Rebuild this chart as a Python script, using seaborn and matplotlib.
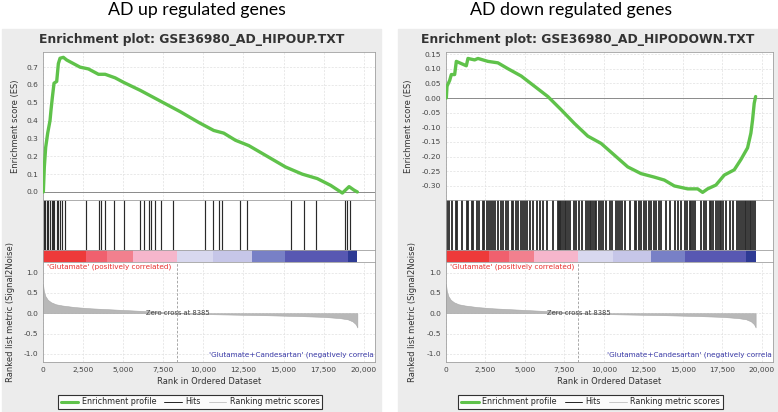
import matplotlib
matplotlib.use('Agg')
import matplotlib.pyplot as plt
from matplotlib.lines import Line2D
from matplotlib.patches import Rectangle
import seaborn as sns

W, H = 778, 412

# ---- data ----
N_GENES = 19600
ZERO_CROSS = 8385
X_TICKS = [0, 2500, 5000, 7500, 10000, 12500, 15000, 17500, 20000]

up_es_rank = [21, 83, 167, 292, 437, 500, 583, 687, 854, 958, 1062, 1270, 1479,
              2312, 2833, 3458, 3875, 4500, 5020, 6062, 7312, 8562, 9708, 10645,
              11270, 12000, 12833, 13979, 15125, 15645, 16166, 17104, 17937,
              18666, 19083, 19400, 19600]
up_es_val = [0.0, 0.14, 0.25, 0.33, 0.40, 0.46, 0.53, 0.61, 0.62, 0.72, 0.75, 0.755,
             0.74, 0.70, 0.69, 0.66, 0.66, 0.64, 0.615, 0.57, 0.51, 0.45, 0.39,
             0.345, 0.33, 0.29, 0.26, 0.20, 0.14, 0.12, 0.10, 0.075, 0.037,
             -0.006, 0.03, 0.01, 0.0]

up_hits = [62, 146, 229, 333, 437, 542, 604, 687, 896, 958, 1062, 1167, 1375,
           2687, 3521, 3604, 3896, 4437, 5021, 6021, 6271, 6604, 6708, 7000, 7354,
           8104, 10083, 10583, 10979, 11187, 12312, 12729, 15479, 16271, 17021,
           18833, 18937, 19125]

down_es_rank = [21, 63, 232, 337, 548, 653, 864, 1285, 1391, 1812, 2023, 2655,
                3287, 3919, 4762, 5605, 6447, 7290, 8133, 8976, 9819, 10661, 11504,
                12347, 13190, 13822, 14454, 15297, 15929, 16245, 16561, 17088,
                17615, 18247, 18668, 19090, 19300, 19406, 19511, 19600]
down_es_val = [0.0, 0.04, 0.06, 0.08, 0.08, 0.125, 0.12, 0.11, 0.135, 0.13, 0.135,
               0.125, 0.12, 0.10, 0.075, 0.04, 0.005, -0.04, -0.087, -0.13, -0.155,
               -0.195, -0.235, -0.258, -0.27, -0.28, -0.30, -0.31, -0.31, -0.322,
               -0.31, -0.297, -0.263, -0.245, -0.21, -0.17, -0.12, -0.075, -0.018,
               0.005]

down_hits = [85, 211, 358, 632, 717, 990, 1349, 1411, 1622, 1728, 1938, 2107, 2317,
             2423, 2570, 2739, 2823, 2992, 3097, 3307, 3455, 3624, 3792, 3939, 4150,
             4256, 4424, 4530, 4719, 4845, 4993, 5141, 5309, 5477, 5773, 5941, 6152,
             6405, 6742, 7099, 7163, 7248, 7310, 7416, 7521, 7627, 7731, 7880, 8090,
             8259, 8427, 8638, 8891, 8995, 9101, 9206, 9312, 9417, 9523, 9691, 9838,
             9944, 10112, 10365, 10534, 10744, 10891, 10997, 11166, 11313, 11629,
             11945, 12051, 12219, 12366, 12514, 12683, 12851, 12998, 13146, 13315,
             13483, 13630, 13947, 14157, 14473, 14684, 14894, 15105, 15253, 15421,
             15526, 15632, 15737, 16158, 16306, 16475, 16685, 16790, 16896, 17064,
             17212, 17317, 17422, 17528, 17696, 17949, 18160, 18434, 18539, 18686,
             18792, 18897, 19003, 19108, 19213, 19318, 19424, 19530]

metric_rank = [0, 50, 150, 300, 500, 800, 1200, 2000, 3000, 4000, 5000, 6000,
               7000, 8000, 8385, 9000, 10000, 12000, 14000, 16000, 17500, 18500,
               19000, 19300, 19500, 19600]
metric_val = [0.72, 0.55, 0.42, 0.33, 0.27, 0.22, 0.19, 0.15, 0.12, 0.10, 0.08,
              0.06, 0.04, 0.015, 0.0, -0.01, -0.02, -0.035, -0.05, -0.07, -0.09,
              -0.12, -0.15, -0.20, -0.27, -0.35]

cbar_edges = [0, 2700, 4000, 5600, 8385, 10600, 13000, 15100, 19000, 19600]
cbar_colors = ['#ee3a3a', '#f0606e', '#f2808e', '#f6b6cc', '#d8d8ef', '#c6c6e8',
               '#7880c6', '#5858b2', '#2e3a94']

sns.set_theme(style='white')
plt.rcParams['font.family'] = ['DejaVu Sans']
plt.rcParams['axes.unicode_minus'] = False

GREEN = '#5fc24a'
SPINE = '#a0a0a0'
GRID = dict(color='#e0e0e0', lw=0.5, ls=(0, (3, 2)))


def px_box(x0, y0, x1, y1):
    return [x0 / W, 1 - y1 / H, (x1 - x0) / W, (y1 - y0) / H]


def style_ax(ax):
    for s in ax.spines.values():
        s.set_visible(True)
        s.set_color(SPINE)
        s.set_linewidth(0.6)
    ax.set_xlim(0, 20700)
    ax.tick_params(length=2, width=0.5, color=SPINE, pad=1.5,
                   labelsize=5.4, labelcolor='#444')


def draw_panel(fig, bg, x0, x1, head_x, head, title, es_rank, es_val, hits, hit_lw,
               es_lim, es_ticks, es_fmt, lab_es, lab_rm):
    fig.add_artist(Rectangle((bg[0] / W, 0), (bg[1] - bg[0]) / W, (H - 29) / H,
                             transform=fig.transFigure, color='#ececec', zorder=0))
    cx = (bg[0] + bg[1]) / 2
    fig.text(head_x / W, 1 - 10 / H, head, family='Lato', fontsize=12.8,
             ha='center', va='center', color='black')
    fig.text(cx / W, 1 - 40 / H, title, fontsize=8.9, weight='bold',
             ha='center', va='center', color='#333333')

    # enrichment score
    ax_es = fig.add_axes(px_box(x0, 52, x1, 200))
    ax_es.set_facecolor('white')
    style_ax(ax_es)
    ax_es.set_xticks(X_TICKS)
    ax_es.set_xticklabels([])
    ax_es.tick_params(axis='x', length=0)
    ax_es.set_ylim(*es_lim)
    ax_es.set_yticks(es_ticks)
    ax_es.set_yticklabels([es_fmt.format(t) for t in es_ticks])
    ax_es.grid(True, **GRID)
    ax_es.axhline(0, color='#8a8a8a', lw=0.7, zorder=1)
    sns.lineplot(x=es_rank, y=es_val, ax=ax_es, color=GREEN, linewidth=2.4,
                 zorder=3)
    ax_es.set_xlim(0, 20700)
    ax_es.set_ylabel('Enrichment score (ES)', fontsize=6, color='#333')
    ax_es.yaxis.set_label_coords(lab_es, 0.5)

    # hits
    ax_h = fig.add_axes(px_box(x0, 200, x1, 250))
    ax_h.set_facecolor('white')
    style_ax(ax_h)
    ax_h.set_xticks([])
    ax_h.set_yticks([])
    ax_h.set_ylim(0, 1)
    ax_h.vlines(hits, 0, 1, color='#2a2a2a', lw=hit_lw)

    # colour bar
    ax_b = fig.add_axes(px_box(x0, 250, x1, 262))
    ax_b.set_facecolor('white')
    style_ax(ax_b)
    ax_b.set_xticks([])
    ax_b.set_yticks([])
    for a, b, c in zip(cbar_edges[:-1], cbar_edges[1:], cbar_colors):
        ax_b.axvspan(a, b, color=c, lw=0)

    # ranked list metric
    ax_r = fig.add_axes(px_box(x0, 262, x1, 362))
    ax_r.set_facecolor('white')
    style_ax(ax_r)
    ax_r.set_ylim(-1.2, 1.26)
    ax_r.set_yticks([-1.0, -0.5, 0.0, 0.5, 1.0])
    ax_r.set_yticklabels(['-1.0', '-0.5', '0.0', '0.5', '1.0'])
    ax_r.set_xticks(X_TICKS)
    ax_r.set_xticklabels(['{:,}'.format(t) for t in X_TICKS])
    ax_r.grid(True, **GRID)
    ax_r.fill_between(metric_rank, 0, metric_val, color='#b8b8b8', lw=0.4,
                      edgecolor='#a8a8a8', zorder=2)
    ax_r.axvline(ZERO_CROSS, color='#9a9a9a', lw=0.6, ls=(0, (3, 2)), zorder=3)
    ax_r.text(ZERO_CROSS, 0.0, 'Zero cross at 8385', fontsize=4.9, color='#444',
              ha='center', va='center', zorder=4)
    ax_r.text(250, 1.14, "'Glutamate' (positively correlated)", fontsize=5.2,
              color='#e8302f', ha='left', va='center')
    # the reference cuts this label at the panel edge
    ax_r.text(20650, -1.03, "'Glutamate+Candesartan' (negatively correla",
              fontsize=5.2, color='#3a3aa8', ha='right', va='center', clip_on=True)
    ax_r.set_ylabel('Ranked list metric (Signal2Noise)', fontsize=6, color='#333')
    ax_r.yaxis.set_label_coords(lab_rm, 0.5)
    ax_r.set_xlabel('Rank in Ordered Dataset', fontsize=6, color='#333')
    ax_r.xaxis.set_label_coords(0.5, -0.15)

    handles = [Line2D([], [], color=GREEN, lw=2.2),
               Line2D([], [], color='#222', lw=0.7),
               Line2D([], [], color='#c8c8c8', lw=0.7)]
    leg = fig.legend(handles, ['Enrichment profile', 'Hits', 'Ranking metric scores'],
                     loc='center', bbox_to_anchor=(((x0 + x1) / 2 - 19) / W, 1 - 402 / H),
                     ncol=3, fontsize=5.8, frameon=True, fancybox=False,
                     edgecolor='black', handlelength=2.2, columnspacing=1.0,
                     borderpad=0.35, handletextpad=0.4)
    leg.get_frame().set_linewidth(0.8)


fig = plt.figure(figsize=(W / 100, H / 100), dpi=100)
fig.patch.set_facecolor('white')

draw_panel(fig, (2, 381), 43, 375, 197, 'AD up regulated genes',
           'Enrichment plot: GSE36980_AD_HIPOUP.TXT', up_es_rank, up_es_val, up_hits,
           0.85, (-0.045, 0.785), [0.0, 0.1, 0.2, 0.3, 0.4, 0.5, 0.6, 0.7], '{:.1f}',
           -0.069, -0.084)
draw_panel(fig, (398, 778), 446, 773, 571, 'AD down regulated genes',
           'Enrichment plot: GSE36980_AD_HIPODOWN.TXT', down_es_rank, down_es_val,
           down_hits, 1.3, (-0.348, 0.157),
           [0.15, 0.10, 0.05, 0.0, -0.05, -0.10, -0.15, -0.20, -0.25, -0.30], '{:.2f}',
           -0.10, -0.089)

fig.savefig('out.png', dpi=100)
